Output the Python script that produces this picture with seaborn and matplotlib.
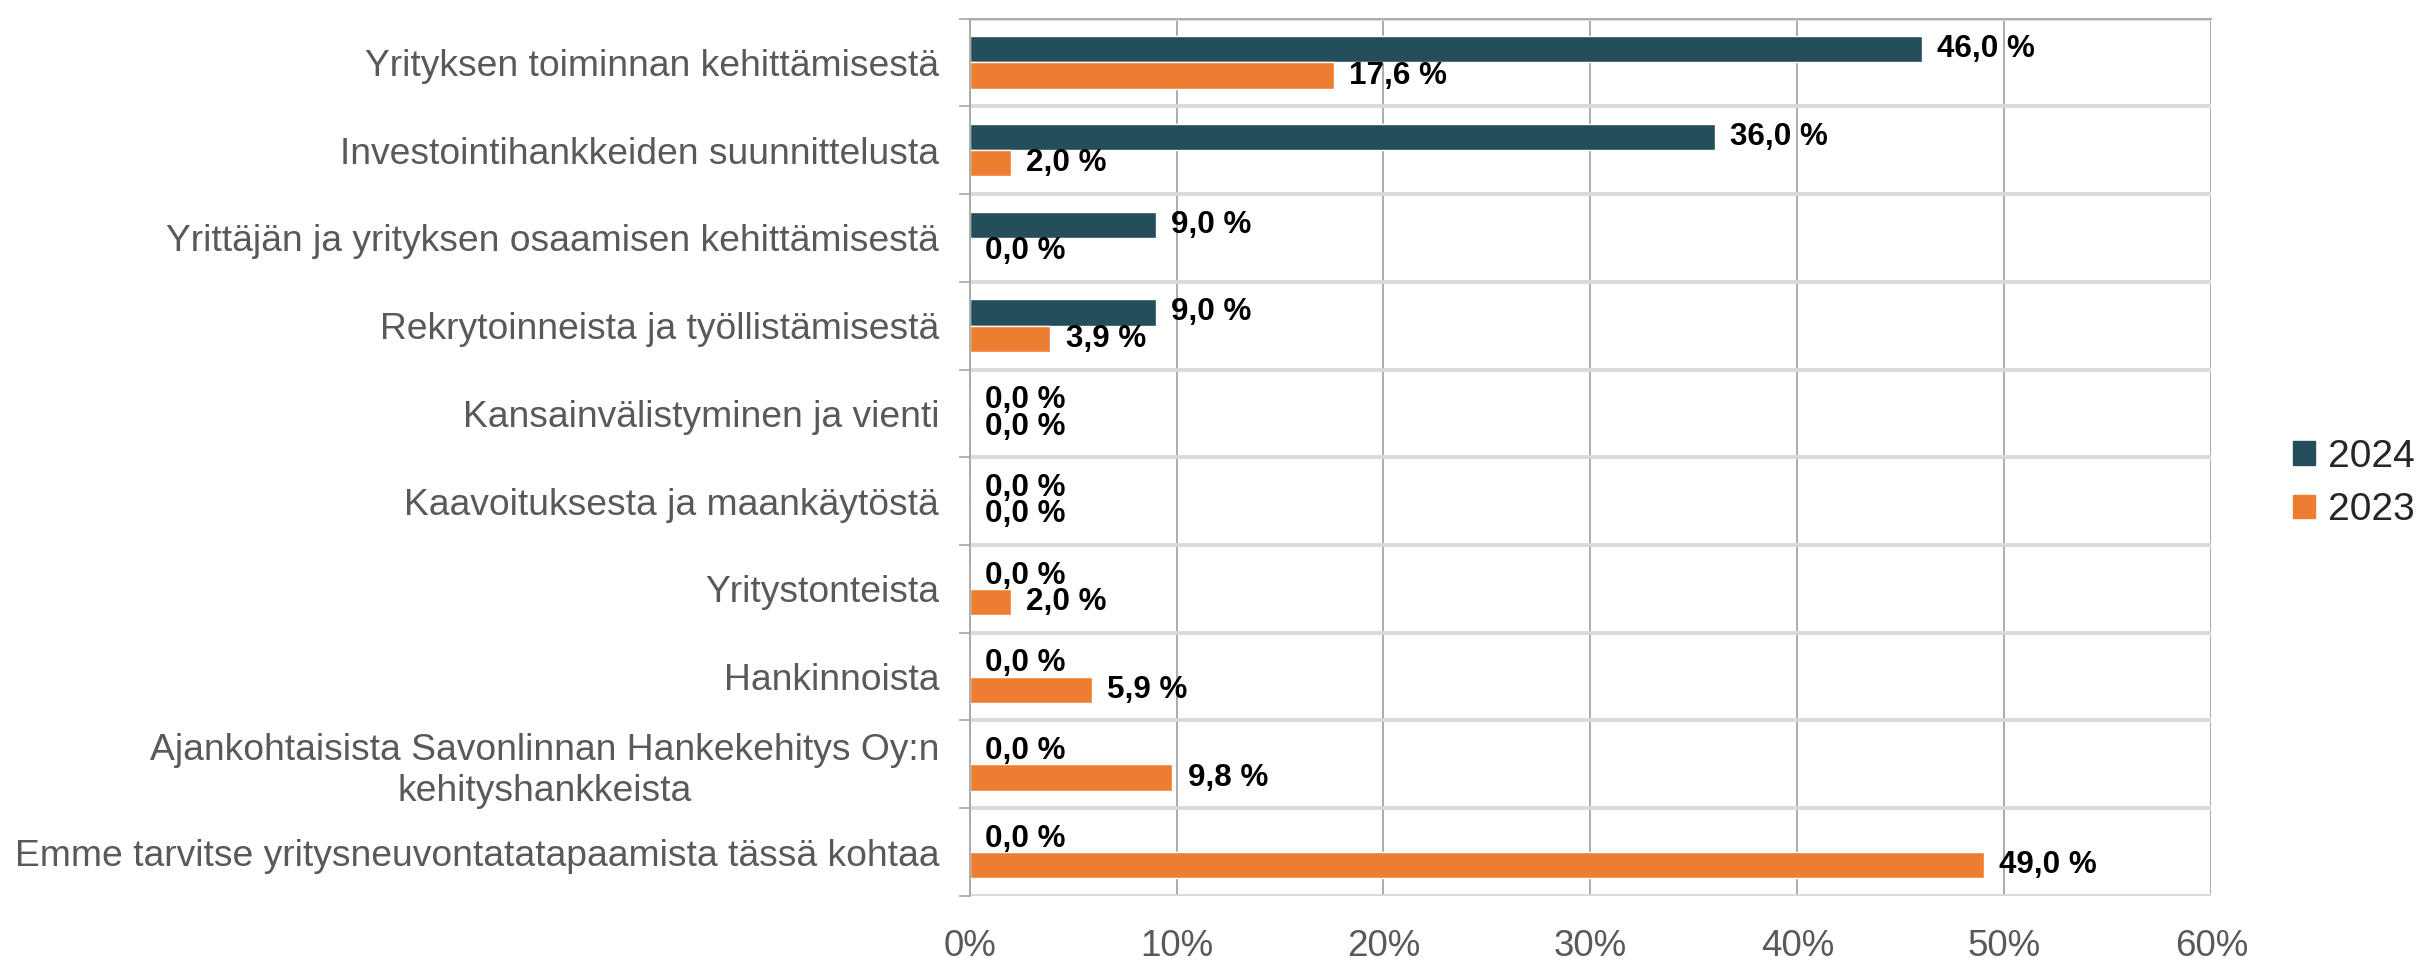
import matplotlib
matplotlib.use("Agg")
import matplotlib.pyplot as plt
import matplotlib.patches as mpatches
import seaborn as sns
import pandas as pd

categories = [
    "Yrityksen toiminnan kehittämisestä",
    "Investointihankkeiden suunnittelusta",
    "Yrittäjän ja yrityksen osaamisen kehittämisestä",
    "Rekrytoinneista ja työllistämisestä",
    "Kansainvälistyminen ja vienti",
    "Kaavoituksesta ja maankäytöstä",
    "Yritystonteista",
    "Hankinnoista",
    "Ajankohtaisista Savonlinnan Hankekehitys Oy:n\nkehityshankkeista",
    "Emme tarvitse yritysneuvontatatapaamista tässä kohtaa",
]
values_2024 = [46.0, 36.0, 9.0, 9.0, 0.0, 0.0, 0.0, 0.0, 0.0, 0.0]
values_2023 = [17.6, 2.0, 0.0, 3.9, 0.0, 0.0, 2.0, 5.9, 9.8, 49.0]
years = ["2024", "2023"]
colors = {"2024": "#244E5C", "2023": "#ED7D31"}
x_ticks = [0, 10, 20, 30, 40, 50, 60]

df = pd.DataFrame({
    "category": categories * 2,
    "year": ["2024"] * len(categories) + ["2023"] * len(categories),
    "value": values_2024 + values_2023,
})

sns.set_theme(style="white")
plt.rcParams["font.family"] = ["Liberation Sans", "DejaVu Sans"]

fig = plt.figure(figsize=(24.3, 9.6), dpi=100)
ax = fig.add_axes([0.399, 0.0667, 0.511, 0.914])

sns.barplot(data=df, y="category", x="value", hue="year", hue_order=years,
            palette=colors, orient="h", width=0.6, saturation=1,
            order=categories, ax=ax, legend=False)

ax.set_xlim(0, 60)
ax.set_ylim(len(categories) - 0.5, -0.5)
ax.set_xticks(x_ticks)
ax.set_xticklabels([f"{t}%" for t in x_ticks], fontsize=26.5, color="#595959")
ax.set_yticks(range(len(categories)))
ax.set_yticklabels(categories, fontsize=26.8, color="#595959", multialignment="center")
ax.set_yticks([i - 0.5 for i in range(len(categories) + 1)], minor=True)
ax.tick_params(axis="y", which="major", length=0, pad=22)
ax.tick_params(axis="y", which="minor", length=8, width=1.2, color="#A6A6A6", direction="out", left=True)
ax.tick_params(axis="x", which="major", length=0, pad=24)
ax.set_xlabel("")
ax.set_ylabel("")

ax.grid(True, which="major", axis="x", color="#A6A6A6", linewidth=1.3)
ax.grid(True, which="minor", axis="y", color="#D9D9D9", linewidth=2.8)
ax.grid(False, which="major", axis="y")
ax.set_axisbelow(True)

for side in ["right", "bottom"]:
    ax.spines[side].set_visible(False)
ax.spines["left"].set_color("#A6A6A6")
ax.spines["left"].set_linewidth(1.3)
ax.spines["top"].set_color("#A6A6A6")
ax.spines["top"].set_linewidth(1.3)

for cont, vals in zip(ax.containers, [values_2024, values_2023]):
    labels = [f"{v:.1f}".replace(".", ",") + " %" for v in vals]
    ax.bar_label(cont, labels=labels, padding=11, fontsize=22.6, fontweight="bold", color="black")

handles = [mpatches.Patch(color=colors[y], label=y) for y in years]
ax.legend(handles=handles, loc="center left", bbox_to_anchor=(1.066, 0.47),
          frameon=False, fontsize=28, handlelength=0.55, handleheight=0.55,
          handletextpad=0.35, labelspacing=0.45, borderaxespad=0, borderpad=0)

fig.savefig("out.png", dpi=100, facecolor="white")
